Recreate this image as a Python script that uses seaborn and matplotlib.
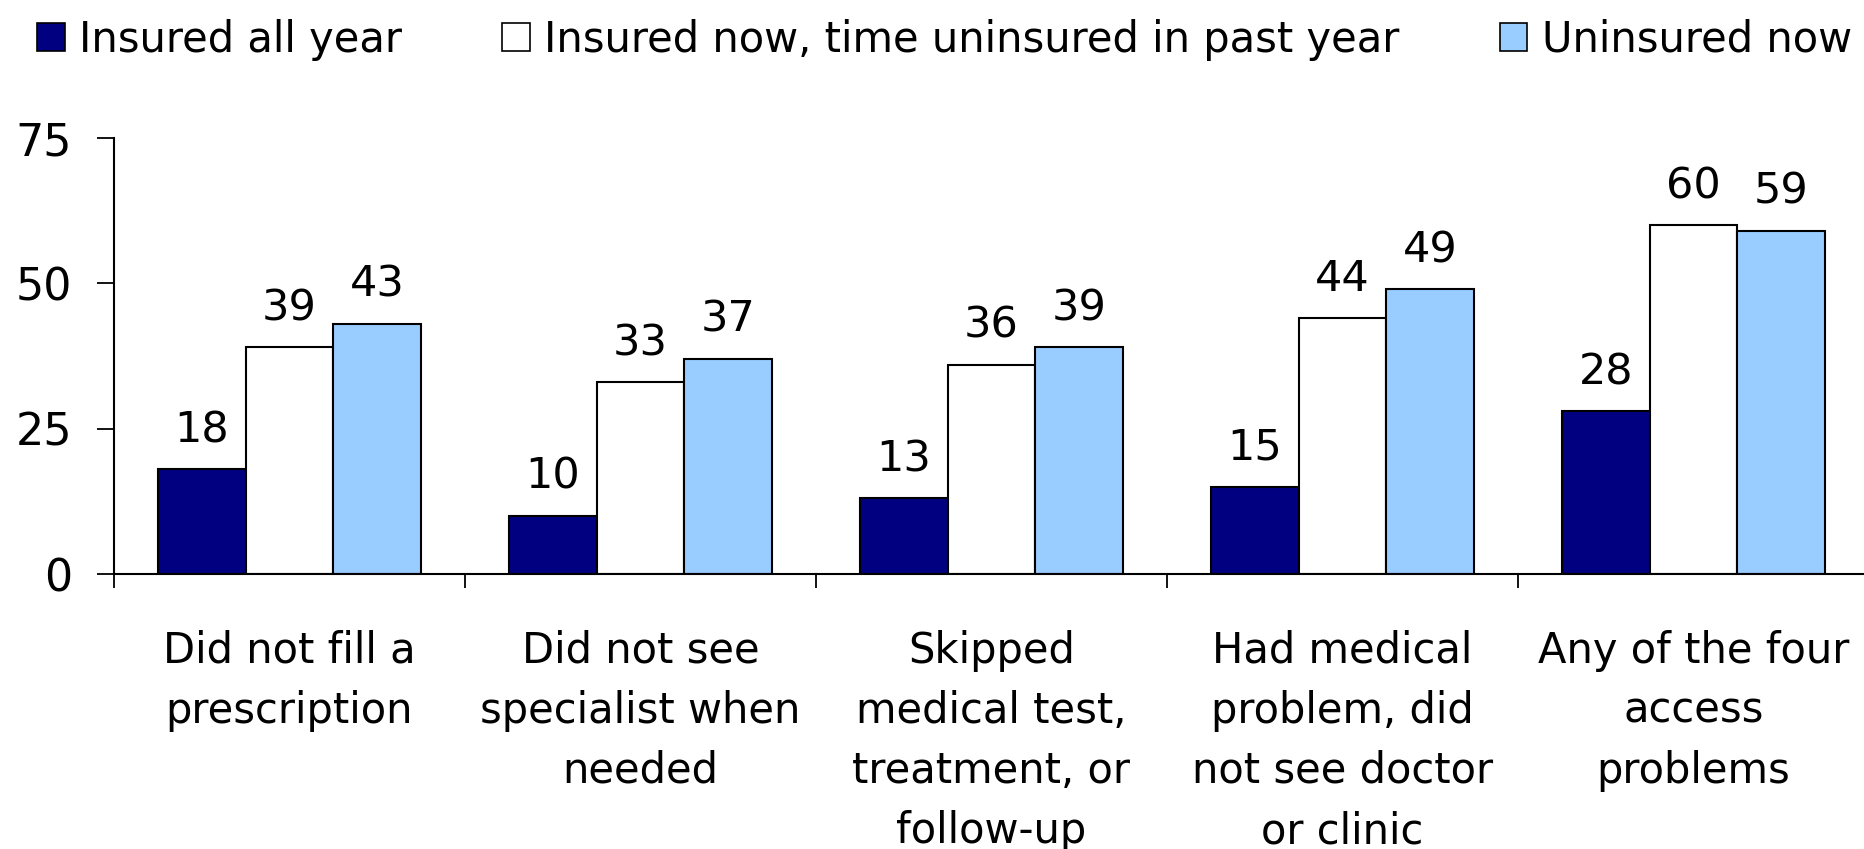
import matplotlib
matplotlib.use("Agg")
import matplotlib.pyplot as plt
import seaborn as sns
import pandas as pd
from matplotlib.patches import Patch

categories = [
    "Did not fill a\nprescription",
    "Did not see\nspecialist when\nneeded",
    "Skipped\nmedical test,\ntreatment, or\nfollow-up",
    "Had medical\nproblem, did\nnot see doctor\nor clinic",
    "Any of the four\naccess\nproblems",
]
series = ["Insured all year", "Insured now, time uninsured in past year", "Uninsured now"]
insured_all_year = [18, 10, 13, 15, 28]
insured_now_gap = [39, 33, 36, 44, 60]
uninsured_now = [43, 37, 39, 49, 59]
colors = ["#000080", "#FFFFFF", "#99CCFF"]
yticks = [0, 25, 50, 75]

rows = []
for s, vals in zip(series, [insured_all_year, insured_now_gap, uninsured_now]):
    for c, v in zip(categories, vals):
        rows.append({"category": c, "series": s, "value": v})
df = pd.DataFrame(rows)

sns.set_theme(style="white")
plt.rcParams["font.family"] = ["DejaVu Sans"]
plt.rcParams["text.color"] = "black"
plt.rcParams["xtick.color"] = "black"
plt.rcParams["ytick.color"] = "black"

W, H = 1865, 849
fig = plt.figure(figsize=(W / 100, H / 100), dpi=100)
ax = fig.add_axes([114 / W, 1 - 574 / H, 1755 / W, (574 - 138) / H])

sns.barplot(data=df, x="category", y="value", hue="series", order=categories,
            hue_order=series, palette=colors, width=0.75, gap=0, saturation=1,
            edgecolor="black", linewidth=1.5, ax=ax, legend=False, errorbar=None)

for cont in ax.containers:
    ax.bar_label(cont, fmt="%d", padding=13, fontsize=31, color="black")

ax.set_ylim(0, 75)
ax.set_xlim(-0.5, 4.5)
ax.set_yticks(yticks)
ax.set_yticklabels([str(t) for t in yticks], fontsize=32, color="black")
ax.tick_params(axis="y", direction="out", length=12, width=1.3, pad=18, colors="black", left=True)
ax.set_xticks(range(len(categories)))
ax.set_xticklabels(categories, fontsize=30, linespacing=1.55, color="black")
ax.tick_params(axis="x", which="major", length=0, pad=40)
ax.set_xticks([i - 0.5 for i in range(len(categories) + 1)], minor=True)
ax.tick_params(axis="x", which="minor", direction="out", length=10, width=1.3, bottom=True, colors="black")
ax.set_xlabel("")
ax.set_ylabel("")
for side in ["top", "right"]:
    ax.spines[side].set_visible(False)
for side in ["left", "bottom"]:
    ax.spines[side].set_color("black")
    ax.spines[side].set_linewidth(1.5)

handles = [Patch(facecolor=c, edgecolor="black", linewidth=1.2) for c in colors]
fig.legend(handles, series, loc="upper left", bbox_to_anchor=(8 / W, 1.012), ncol=3,
           frameon=False, fontsize=30, handlelength=0.66, handleheight=0.66,
           handletextpad=0.35, columnspacing=2.4, borderaxespad=0.3)

fig.savefig("out.png", dpi=100)
